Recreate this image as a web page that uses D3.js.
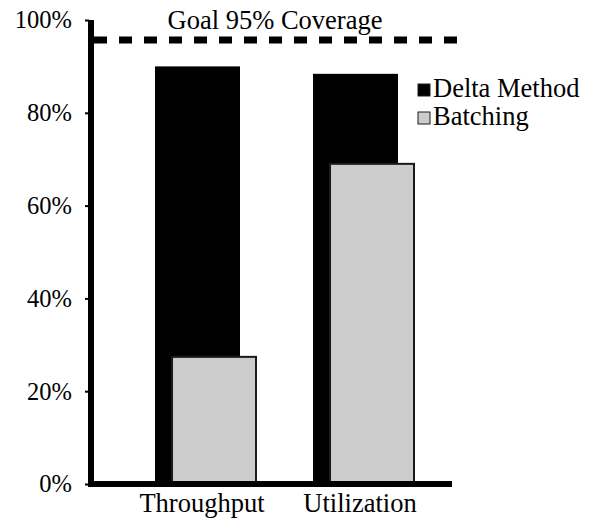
<!DOCTYPE html>
<html>
<head>
<meta charset="utf-8">
<script src="https://cdn.jsdelivr.net/npm/d3@7"></script>
<style>
html,body{margin:0;padding:0;background:#fff;}
svg{display:block;}
</style>
</head>
<body>
<svg id="chart" width="592" height="520"></svg>
<script>
const categories = ["Throughput", "Utilization"];
const seriesNames = ["Delta Method", "Batching"];
const deltaMethod = [0.90, 0.884];
const batching = [0.274, 0.69];
const yTicks = [0, 0.2, 0.4, 0.6, 0.8, 1.0];
const goalValue = 0.957;
const goalLabel = "Goal 95% Coverage";

const FONT = '"Liberation Serif"';
const svg = d3.select("#chart");

const y = d3.scaleLinear().domain([0, 1]).range([484, 20]);
const x = d3.scalePoint().domain(categories).range([205, 363]);

// bars: delta method (black)
svg.append("g").selectAll("rect")
  .data(deltaMethod)
  .join("rect")
  .attr("x", (d, i) => x(categories[i]) - 50)
  .attr("width", 85)
  .attr("y", d => y(d))
  .attr("height", d => y(0) - y(d))
  .attr("fill", "#000");

// bars: batching (gray)
svg.append("g").selectAll("rect")
  .data(batching)
  .join("rect")
  .attr("x", (d, i) => x(categories[i]) - 33)
  .attr("width", 84)
  .attr("y", d => y(d))
  .attr("height", d => y(0) - y(d))
  .attr("fill", "#cccccc")
  .attr("stroke", "#1a1a1a")
  .attr("stroke-width", 2);

// goal line
svg.append("line")
  .attr("x1", 94).attr("x2", 458)
  .attr("y1", y(goalValue)).attr("y2", y(goalValue))
  .attr("stroke", "#000")
  .attr("stroke-width", 7)
  .attr("stroke-dasharray", "13,12");

svg.append("text")
  .attr("x", 275).attr("y", 29)
  .attr("text-anchor", "middle")
  .style("font-family", FONT)
  .style("font-size", "26.5px")
  .text(goalLabel);

// y axis
const yAxis = d3.axisLeft(y).tickValues(yTicks).tickFormat(d3.format(".0%")).tickSize(4).tickPadding(13);
const gy = svg.append("g").attr("transform", "translate(89,0)").call(yAxis);
gy.select(".domain").remove();
gy.selectAll(".tick line").attr("stroke", "#000").attr("stroke-width", 2);
gy.selectAll(".tick text")
  .style("font-family", FONT)
  .style("font-size", "24.5px")
  .attr("fill", "#000");

svg.append("line")
  .attr("x1", 91).attr("x2", 91)
  .attr("y1", y(1)).attr("y2", y(0) + 3)
  .attr("stroke", "#000").attr("stroke-width", 6);

// x axis
svg.append("line")
  .attr("x1", 88).attr("x2", 452)
  .attr("y1", y(0)).attr("y2", y(0))
  .attr("stroke", "#000").attr("stroke-width", 6);

svg.append("g").selectAll("text")
  .data(categories)
  .join("text")
  .attr("x", d => x(d) - 3)
  .attr("y", 512)
  .attr("text-anchor", "middle")
  .style("font-family", FONT)
  .style("font-size", "26.5px")
  .text(d => d);

// legend
const legendColors = ["#000", "#cccccc"];
const lg = svg.append("g").selectAll("g")
  .data(seriesNames)
  .join("g")
  .attr("transform", (d, i) => `translate(418,${84 + i * 28})`);
lg.append("rect")
  .attr("width", 12).attr("height", 12)
  .attr("fill", (d, i) => legendColors[i])
  .attr("stroke", "#1a1a1a")
  .attr("stroke-width", 1);
lg.append("text")
  .attr("x", 15).attr("y", 13)
  .style("font-family", FONT)
  .style("font-size", "26.5px")
  .text(d => d);
</script>
</body>
</html>
